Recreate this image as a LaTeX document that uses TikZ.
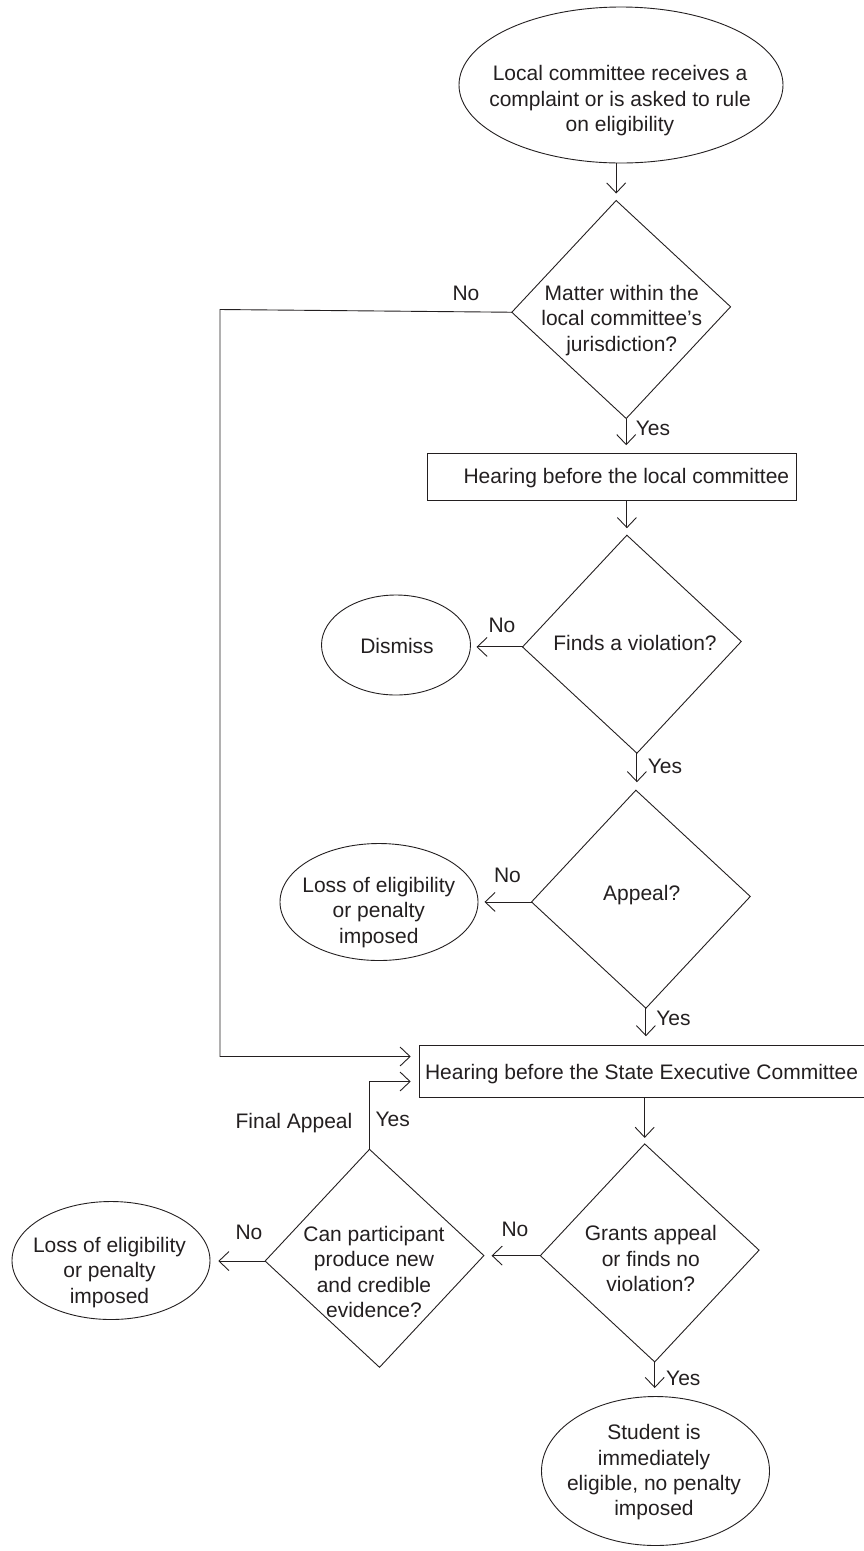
\documentclass[tikz,border=0pt]{standalone}
\usepackage{fontspec}
\setmainfont{Liberation Sans}
\usetikzlibrary{shapes.geometric,arrows.meta}
\definecolor{ink}{RGB}{35,31,32}
\begin{document}
\begin{tikzpicture}[x=1pt,y=-1pt,
  every node/.style={text=ink},
  shp/.style={draw=ink,line width=0.9pt,inner sep=0pt,outer sep=0pt},
  oval/.style={shp,ellipse},
  dia/.style={shp,diamond,minimum width=219pt,minimum height=218pt,xslant=-0.046,yslant=0.025,transform shape},
  boxn/.style={shp,rectangle},
  txt/.style={inner sep=0pt,outer sep=0pt,align=center,font=\fontsize{21}{25.3}\selectfont},
  lbl/.style={inner sep=0pt,outer sep=0pt,anchor=base,font=\fontsize{21}{25.3}\selectfont},
  arr/.style={draw=ink,line width=0.9pt,-{Straight Barb[length=10pt,width=19pt]}},
  ln/.style={draw=ink,line width=0.9pt}
]
\useasboundingbox (0,0) rectangle (864,1551);
\clip (0,0) rectangle (864,1551);
% shapes
\node[oval,minimum width=324pt,minimum height=156pt] (e1) at (621,85) {};
\node[dia] (d1) at (621.2,309.5) {};
\node[boxn,minimum width=369pt,minimum height=47pt] (b1) at (611.6,476.7) {};
\node[dia] (d2) at (631.9,644.2) {};
\node[oval,minimum width=149pt,minimum height=100pt] (dis) at (396,645) {};
\node[dia] (d3) at (640.9,899.2) {};
\node[oval,minimum width=198pt,minimum height=117pt] (l1) at (379,902) {};
\node[boxn,minimum width=448pt,minimum height=51.6pt] (sec) at (643,1071.5) {};
\node[dia] (d5) at (649.7,1252.9) {};
\node[dia] (d4) at (374.5,1258.3) {};
\node[oval,minimum width=198pt,minimum height=118pt] (l2) at (111,1260.5) {};
\node[oval,minimum width=228pt,minimum height=149pt] (eb) at (655.5,1471) {};
% texts
\node[txt,anchor=north] (te1) at (620,65.7) {Local committee receives a\\complaint or is asked to rule\\on eligibility};
\node[txt,anchor=north] (td1) at (621.7,285.4) {Matter within the\\local committee’s\\jurisdiction?};
\node[lbl] (tb1) at (626.4,483.3) {Hearing before the local committee};
\node[lbl] (td2) at (635,650) {Finds a violation?};
\node[lbl] (tdis) at (397,653) {Dismiss};
\node[lbl] (td3) at (641.7,900) {Appeal?};
\node[txt,anchor=north] (tl1) at (378.8,877.4) {Loss of eligibility\\or penalty\\imposed};
\node[lbl,anchor=base west] (tsec) at (425,1079.3) {Hearing before the State Executive Committee};
\node[txt,anchor=north] (td5) at (650.8,1225.7) {Grants appeal\\or finds no\\violation?};
\node[txt,anchor=north] (td4) at (374,1226.4) {Can participant\\produce new\\and credible\\evidence?};
\node[txt,anchor=north] (tl2) at (109.5,1237.4) {Loss of eligibility\\or penalty\\imposed};
\node[txt,anchor=north] (teb) at (654,1424.7) {Student is\\immediately\\eligible, no penalty\\imposed};
% labels
\node[lbl] (no1) at (466,300.7) {No};
\node[lbl] (yes1) at (653,435) {Yes};
\node[lbl] (no2) at (502,632) {No};
\node[lbl] (yes2) at (665,773) {Yes};
\node[lbl] (no3) at (507.5,882) {No};
\node[lbl] (yes3) at (673.5,1025) {Yes};
\node[lbl] (fa) at (294,1128.3) {Final Appeal};
\node[lbl] (yes4) at (392.7,1126) {Yes};
\node[lbl] (no4) at (249,1239.3) {No};
\node[lbl] (no5) at (515,1236.7) {No};
\node[lbl] (yes5) at (683.3,1385) {Yes};
% connectors
\coordinate (c1) at (220,309.5);
\draw[arr,shorten >=7pt] (d1.north |- e1.south) -- (d1.north);
\draw[arr,shorten >=8pt] (d1.south) -- (d1.south |- b1.north);
\draw[arr,shorten >=7pt] (d2.north |- b1.south) -- (d2.north);
\draw[arr,shorten >=6pt] (d2.west) -- (d2.west -| dis.east);
\draw[arr,shorten >=8pt] (d2.south) -- (d2.south |- d3.north);
\draw[arr,shorten >=6.5pt] (d3.west) -- (d3.west -| l1.east);
\draw[arr,shorten >=9.5pt] (d3.south) -- (d3.south |- sec.north);
\draw[arr,shorten >=8.3pt] (d1.west) -- (c1) |- ([yshift=15pt]sec.west);
\draw[arr,shorten >=6pt] (d5.north |- sec.south) -- (d5.north);
\draw[arr,shorten >=7.7pt] (d5.west) -- (d5.west -| d4.east);
\draw[arr,shorten >=8.5pt] (d5.south) -- (d5.south |- eb.north);
\draw[arr,shorten >=8.3pt] (d4.west) -- (d4.west -| l2.east);
\draw[arr,shorten >=8.3pt] (d4.north) |- ([yshift=-10pt]sec.west);
\end{tikzpicture}
\end{document}
